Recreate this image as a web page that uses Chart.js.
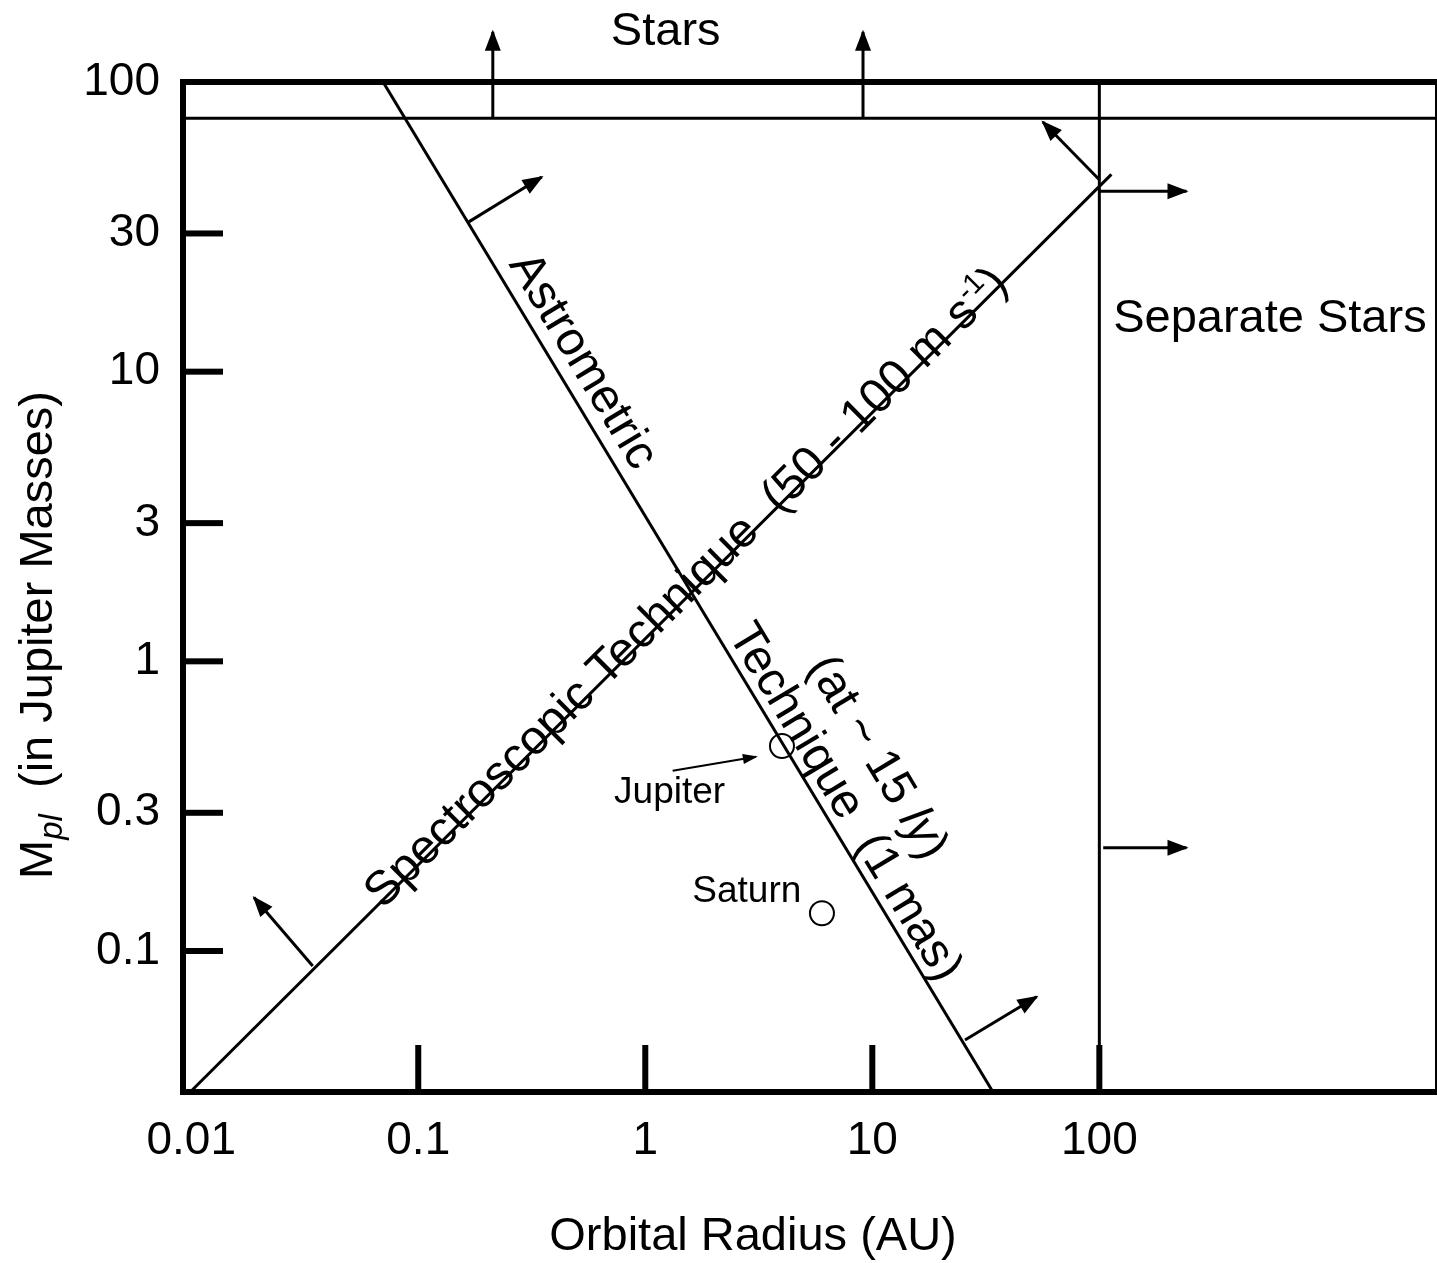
<!DOCTYPE html>
<html>
<head>
<meta charset="utf-8">
<script src="https://cdn.jsdelivr.net/npm/chart.js@4.4.1/dist/chart.umd.min.js"></script>
<style>
  html, body { margin: 0; padding: 0; background: #fff; overflow: hidden; }
  #wrap { width: 1437px; height: 1263px; position: relative; overflow: hidden; }
  canvas { display: block; }
</style>
</head>
<body>
<div id="wrap"><canvas id="chartLimits"></canvas></div>
<script>
// Limiti di rivelazione: tecnica astrometrica vs spettroscopica
// ------------------------------
// assi (AU in ascissa, masse di Giove in ordinata)
const xTickValues = [0.01, 0.1, 1, 10, 100];
const yTickValues = [0.1, 0.3, 1, 3, 10, 30, 100];
const xRange = [0.0092, 3040];
const yRange = [0.0326, 100];

// linee di confine
const astrometricAU = [0.07, 34];
const astrometricMass = [100, 0.0326];
const spectroscopicAU = [0.0099, 113];
const spectroscopicMass = [0.0326, 48];
const starLimitMass = 75;
const separationAU = 100;

// pianeti
const planetNames = ['Jupiter', 'Saturn'];
const planetAU = [4.0, 6.0];
const planetMass = [0.51, 0.135];

// frecce (coda -> punta)
const arrowFromAU   = [0.213, 9.1, 0.167, 25.6, 0.0343, 100, 100, 104, 1.32];
const arrowFromMass = [75, 75, 32.9, 0.0493, 0.0888, 46, 42, 0.227, 0.419];
const arrowToAU     = [0.213, 9.1, 0.35, 53, 0.0189, 56.4, 242, 242, 3.07];
const arrowToMass   = [149, 149, 47, 0.0695, 0.153, 72.8, 42, 0.227, 0.468];

// ------------------------------
// testi (posizioni e stili)
const FONT = '"Liberation Sans", Arial, Helvetica, sans-serif';
Chart.defaults.font.family = FONT;
Chart.defaults.color = '#000';

const lineLabels = [
  { dataset: 'astro', t: 0.29, offset: 13, align: 'center', size: 48, runs: [{ text: 'Astrometric' }] },
  { dataset: 'astro', t: 0.552, offset: 9, align: 'left', size: 48, runs: [{ text: 'Technique  (1 mas)' }] },
  { dataset: 'astro', t: 0.61, offset: 60, align: 'left', size: 48,
    runs: [{ text: '(at ~ 15 ' }, { text: 'ly', italic: true }, { text: ')' }] },
  { dataset: 'spectro', t: 0.544, offset: -7, align: 'center', size: 48,
    runs: [{ text: 'Spectroscopic Technique  (50 - 100 m s' }, { text: '-1', scale: 0.6, dy: -18 }, { text: ')' }] }
];

const freeLabels = [
  { text: 'Stars', x: 1.23, y: 149, size: 47 },
  { text: 'Separate Stars', x: 564, y: 15.2, size: 47 },
  { text: 'Jupiter', x: 1.28, y: 0.351, size: 37 },
  { text: 'Saturn', x: 2.80, y: 0.160, size: 37 }
];

const axisTitles = {
  x: { dx: 570, dy: 145, size: 47, runs: [{ text: 'Orbital Radius (AU)' }] },
  y: { x: 52, dy: 553, size: 47,
       runs: [{ text: 'M' }, { text: 'pl', italic: true, scale: 0.7, dy: 10 }, { text: '  (in Jupiter Masses)' }] }
};

function runFont(run, size) {
  const s = Math.round(size * (run.scale || 1));
  return (run.italic ? 'italic ' : '') + s + 'px ' + FONT;
}

function drawRuns(ctx, runs, size, x, y, angle, align, baseline) {
  ctx.save();
  ctx.translate(x, y);
  ctx.rotate(angle);
  ctx.textBaseline = baseline || 'alphabetic';
  ctx.textAlign = 'left';
  ctx.fillStyle = '#000';
  const widths = runs.map(r => { ctx.font = runFont(r, size); return ctx.measureText(r.text).width; });
  const total = widths.reduce((a, b) => a + b, 0);
  let cx = align === 'center' ? -total / 2 : 0;
  runs.forEach((r, i) => {
    ctx.font = runFont(r, size);
    ctx.fillText(r.text, cx, r.dy || 0);
    cx += widths[i];
  });
  ctx.restore();
}

// tacche interne, punte delle frecce, testi
const decorPlugin = {
  id: 'decor',
  afterDatasetsDraw(chart) {
    const ctx = chart.ctx;
    const area = chart.chartArea;
    const xS = chart.scales.x, yS = chart.scales.y;
    ctx.save();
    ctx.fillStyle = '#000';

    yTickValues.forEach(v => {
      const py = yS.getPixelForValue(v);
      if (py - area.top < 15 || area.bottom - py < 15) return;
      ctx.fillRect(area.left, py - 3, 40, 6);
    });
    xTickValues.forEach(v => {
      const px = xS.getPixelForValue(v);
      if (px - area.left < 15 || area.right - px < 15) return;
      ctx.fillRect(px - 3, area.bottom - 47, 6, 47);
    });

    chart.data.datasets.forEach((ds, i) => {
      if (!ds.arrowHead) return;
      const pts = chart.getDatasetMeta(i).data;
      const a = pts[pts.length - 2], b = pts[pts.length - 1];
      const ang = Math.atan2(b.y - a.y, b.x - a.x);
      const len = ds.arrowHead[0], half = ds.arrowHead[1];
      ctx.save();
      ctx.translate(b.x, b.y);
      ctx.rotate(ang);
      ctx.beginPath();
      ctx.moveTo(2, 0);
      ctx.lineTo(-len, -half);
      ctx.lineTo(-len, half);
      ctx.closePath();
      ctx.fill();
      ctx.restore();
    });

    lineLabels.forEach(lab => {
      const idx = chart.data.datasets.findIndex(d => d.id === lab.dataset);
      const pts = chart.getDatasetMeta(idx).data;
      const p0 = pts[0], p1 = pts[1];
      const ang = Math.atan2(p1.y - p0.y, p1.x - p0.x);
      const bx = p0.x + (p1.x - p0.x) * lab.t + Math.sin(ang) * lab.offset;
      const by = p0.y + (p1.y - p0.y) * lab.t - Math.cos(ang) * lab.offset;
      drawRuns(ctx, lab.runs, lab.size, bx, by, ang, lab.align);
    });

    freeLabels.forEach(lab => {
      drawRuns(ctx, [{ text: lab.text }], lab.size, xS.getPixelForValue(lab.x), yS.getPixelForValue(lab.y), 0, 'center', 'middle');
    });

    const tx = axisTitles.x, ty = axisTitles.y;
    drawRuns(ctx, tx.runs, tx.size, area.left + tx.dx, area.bottom + tx.dy, 0, 'center', 'middle');
    drawRuns(ctx, ty.runs, ty.size, ty.x, area.top + ty.dy, -Math.PI / 2, 'center');
    ctx.restore();
  }
};

// ------------------------------
const seg = (xs, ys) => xs.map((x, i) => ({ x: x, y: ys[i] }));
const lineStyle = {
  type: 'line', xAxisID: 'x', yAxisID: 'y', borderColor: '#000', backgroundColor: '#000',
  borderWidth: 3, pointRadius: 0, fill: false, tension: 0, clip: false, borderCapStyle: 'butt'
};

const datasets = [
  { ...lineStyle, id: 'astro', label: 'Astrometric Technique', data: seg(astrometricAU, astrometricMass) },
  { ...lineStyle, id: 'spectro', label: 'Spectroscopic Technique', data: seg(spectroscopicAU, spectroscopicMass) },
  { ...lineStyle, id: 'stars', label: 'Stars', data: seg(xRange, [starLimitMass, starLimitMass]) },
  { ...lineStyle, id: 'separate', label: 'Separate Stars', data: seg([separationAU, separationAU], yRange) }
];

arrowFromAU.forEach((x0, i) => {
  const small = i === arrowFromAU.length - 1;
  datasets.push({
    ...lineStyle,
    id: 'arrow' + i,
    label: 'arrow',
    borderWidth: small ? 2 : 3,
    arrowHead: small ? [13, 5] : [19, 8],
    data: seg([x0, arrowToAU[i]], [arrowFromMass[i], arrowToMass[i]])
  });
});

datasets.push({
  type: 'scatter', id: 'planets', label: 'Planets', xAxisID: 'x', yAxisID: 'y',
  data: planetAU.map((x, i) => ({ x: x, y: planetMass[i], name: planetNames[i] })),
  pointRadius: 12, pointBackgroundColor: '#fff', pointBorderColor: '#000', pointBorderWidth: 2, clip: false
});

const ctxLimits = document.getElementById('chartLimits').getContext('2d');
const chartLimits = new Chart(ctxLimits, {
  type: 'line',
  data: { datasets: datasets },
  plugins: [decorPlugin],
  options: {
    responsive: true,
    maintainAspectRatio: false,
    animation: false,
    layout: { autoPadding: false, padding: { top: 82, right: 1, bottom: 0, left: 0 } },
    scales: {
      x: {
        type: 'logarithmic', position: 'bottom', min: xRange[0], max: xRange[1],
        afterBuildTicks: s => { s.ticks = xTickValues.map(v => ({ value: v })); },
        afterFit: s => { s.height = 171; },
        ticks: { callback: v => String(v), font: { size: 46 }, color: '#000', padding: 22,
                 autoSkip: false, maxRotation: 0, minRotation: 0 },
        grid: { display: false, drawTicks: false, tickLength: 0 },
        border: { display: true, color: '#000', width: 6 }
      },
      xTop: {
        type: 'logarithmic', position: 'top', min: xRange[0], max: xRange[1],
        afterFit: s => { s.height = 0; },
        ticks: { display: false },
        grid: { display: false, drawTicks: false, tickLength: 0 },
        border: { display: true, color: '#000', width: 6 }
      },
      y: {
        type: 'logarithmic', position: 'left', min: yRange[0], max: yRange[1],
        afterBuildTicks: s => { s.ticks = yTickValues.map(v => ({ value: v })); },
        afterFit: s => { s.width = 183; },
        ticks: { callback: v => String(v), font: { size: 46 }, color: '#000', padding: 23, autoSkip: false },
        grid: { display: false, drawTicks: false, tickLength: 0 },
        border: { display: true, color: '#000', width: 6 }
      },
      yRight: {
        type: 'logarithmic', position: 'right', min: yRange[0], max: yRange[1],
        afterFit: s => { s.width = 0; },
        ticks: { display: false },
        grid: { display: false, drawTicks: false, tickLength: 0 },
        border: { display: true, color: '#000', width: 2 }
      }
    },
    plugins: {
      legend: { display: false },
      tooltip: { enabled: false },
      title: { display: false }
    }
  }
});
</script>
</body>
</html>
